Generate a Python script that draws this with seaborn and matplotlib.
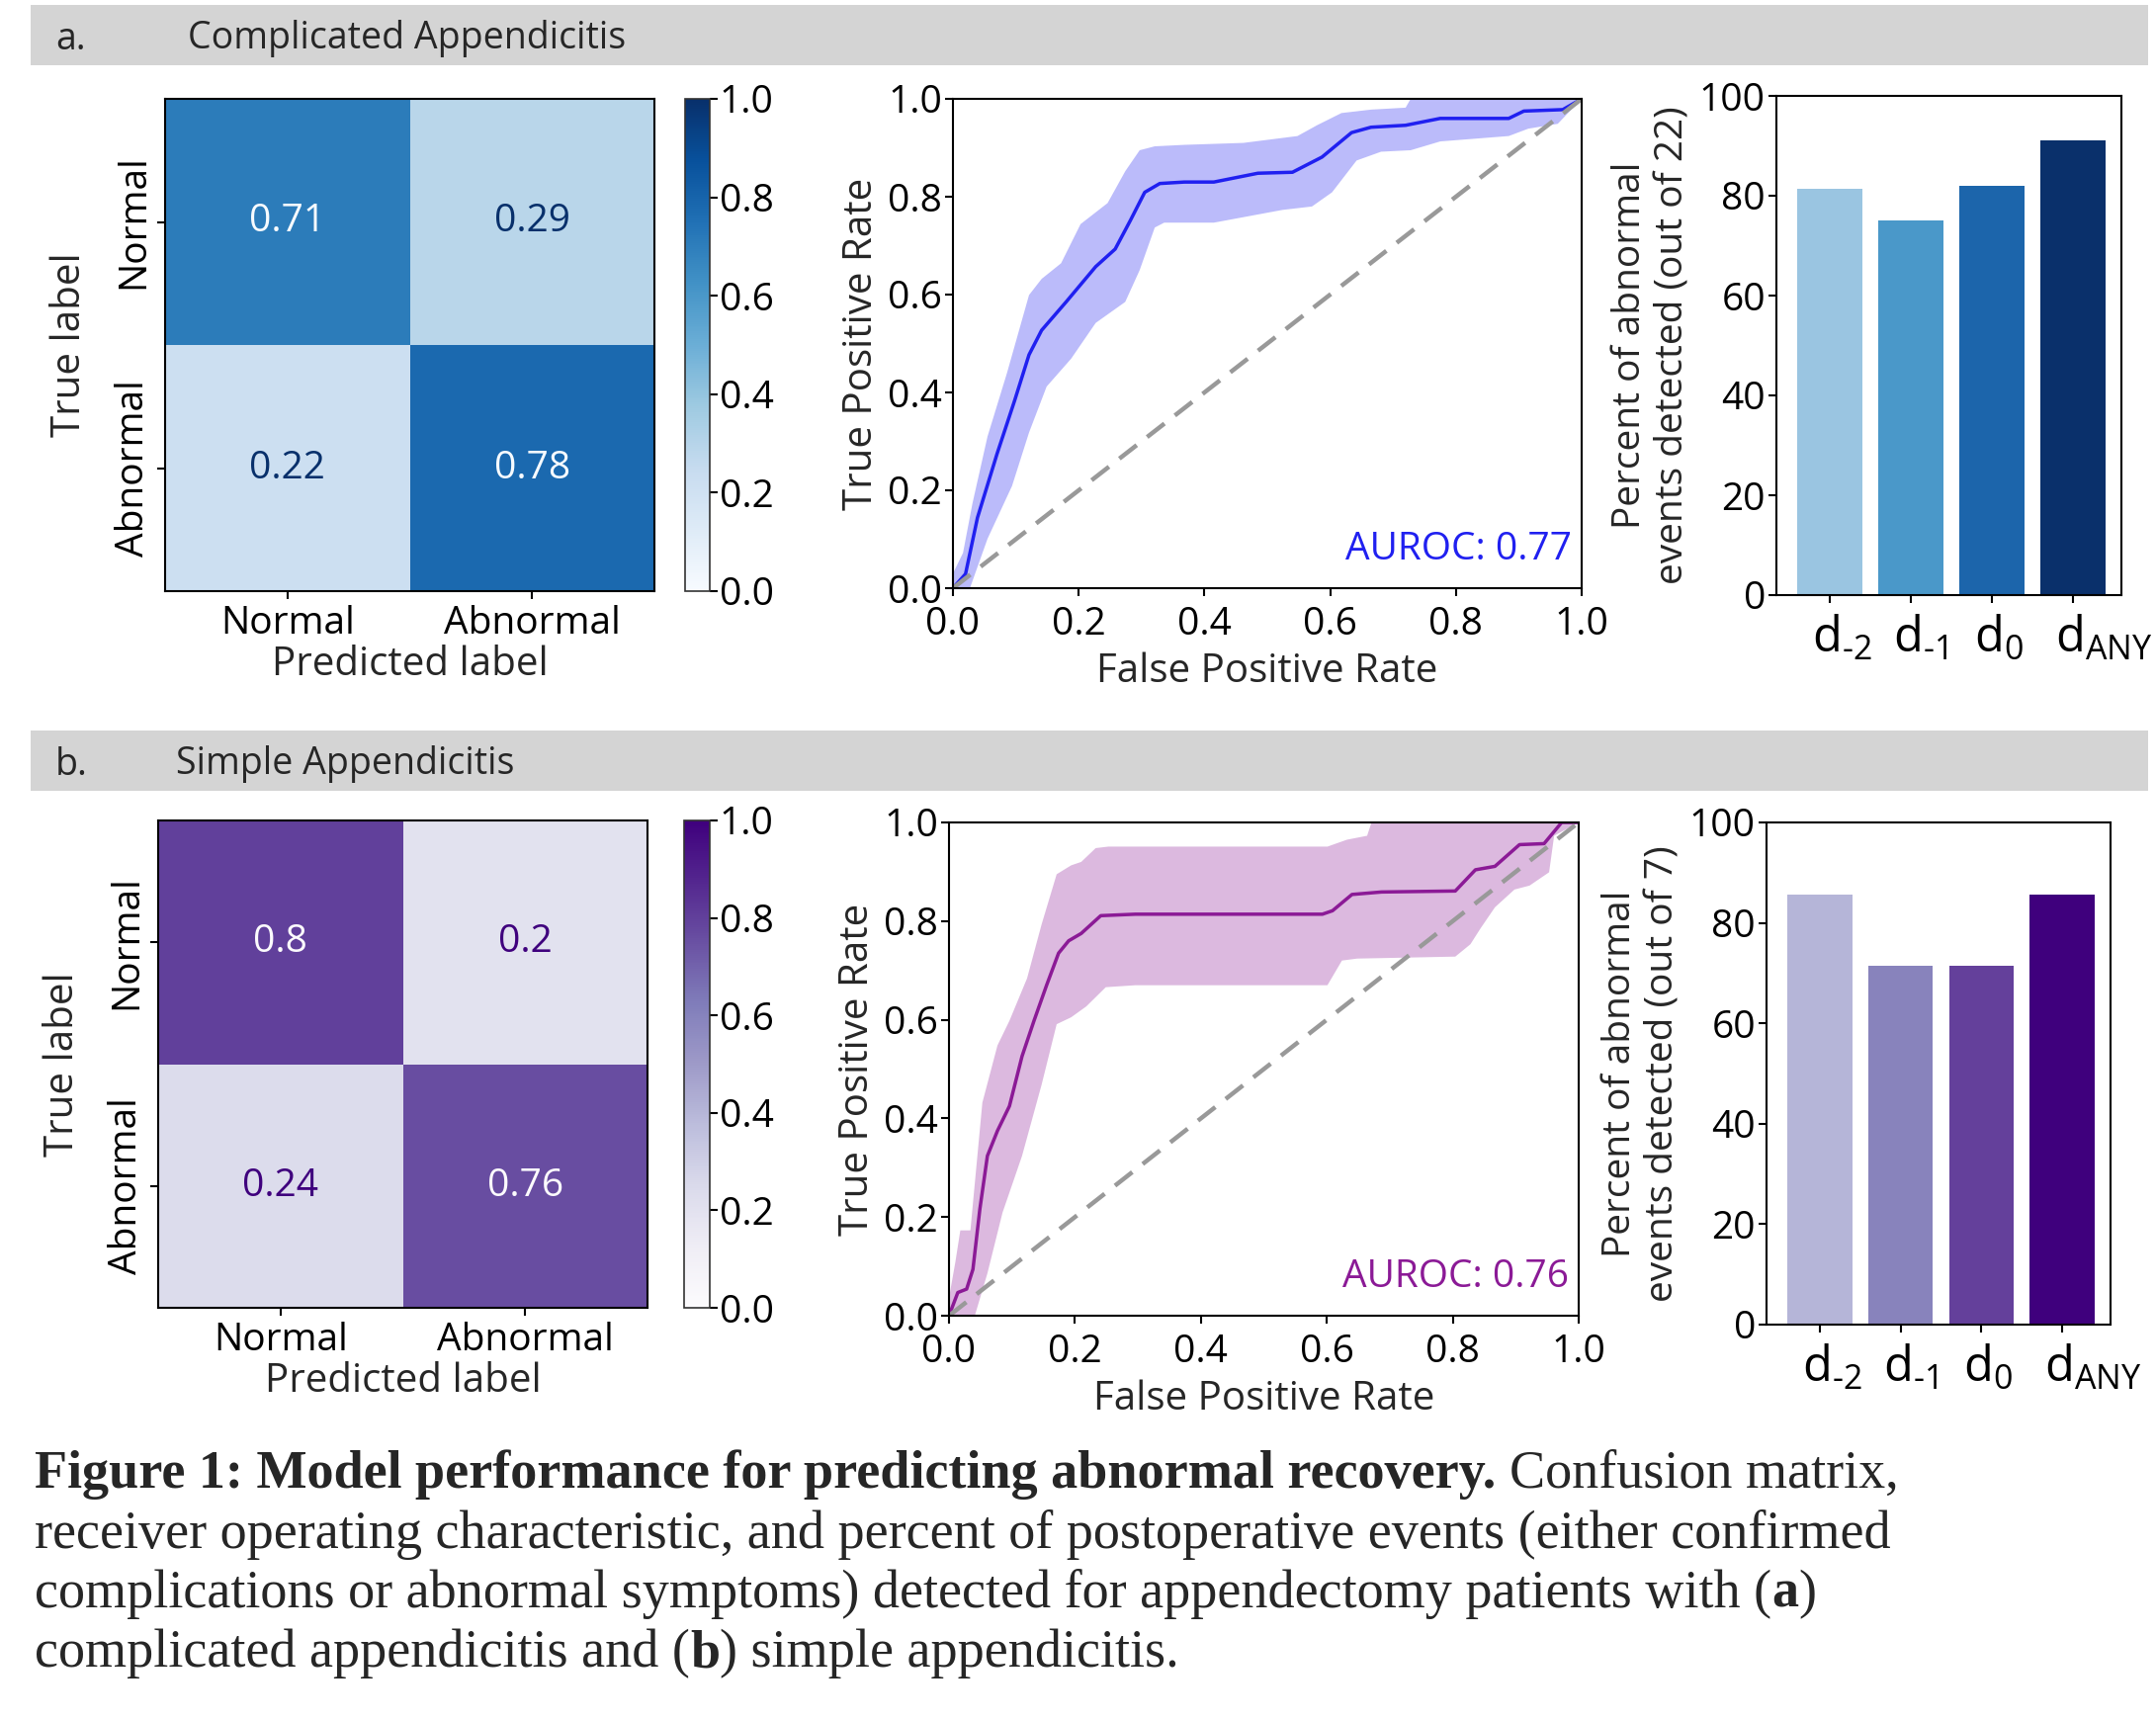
import numpy as np
import pandas as pd
import matplotlib
matplotlib.use("Agg")
import matplotlib.pyplot as plt
import matplotlib.transforms as mtrans
import seaborn as sns
from matplotlib.patches import Rectangle

# ---------------- data ----------------
cm_labels = ["Normal", "Abnormal"]
cm_a = [[0.71, 0.29], [0.22, 0.78]]
cm_b = [[0.8, 0.2], [0.24, 0.76]]

# ROC a (complicated) - mean curve and band edges
roc_a_mean_x = [0, 0.02, 0.039, 0.070, 0.098, 0.121, 0.141, 0.180, 0.227, 0.258, 0.282, 0.305, 0.329,
                0.368, 0.415, 0.485, 0.540, 0.587, 0.634, 0.665, 0.720, 0.775, 0.884, 0.908, 0.970, 1.0]
roc_a_mean_y = [0, 0.029, 0.144, 0.274, 0.383, 0.477, 0.527, 0.585, 0.657, 0.693, 0.751, 0.809, 0.827,
                0.830, 0.830, 0.848, 0.850, 0.881, 0.931, 0.942, 0.946, 0.960, 0.960, 0.975, 0.978, 1.0]
roc_a_up_x = [0, 0.016, 0.031, 0.055, 0.086, 0.121, 0.141, 0.172, 0.203, 0.246, 0.274, 0.297, 0.321,
              0.368, 0.462, 0.548, 0.579, 0.618, 0.665, 0.720, 0.728, 1.0]
roc_a_up_y = [0.03, 0.072, 0.173, 0.310, 0.440, 0.599, 0.632, 0.664, 0.744, 0.787, 0.852, 0.895, 0.903,
              0.906, 0.910, 0.924, 0.946, 0.971, 0.978, 0.982, 1.0, 1.0]
roc_a_lo_x = [0, 0.027, 0.055, 0.094, 0.121, 0.149, 0.188, 0.227, 0.274, 0.297, 0.321, 0.336, 0.415,
              0.524, 0.571, 0.603, 0.642, 0.681, 0.728, 0.775, 0.884, 0.915, 0.962, 1.0]
roc_a_lo_y = [0, 0, 0.101, 0.209, 0.318, 0.412, 0.469, 0.542, 0.585, 0.650, 0.737, 0.747, 0.747,
              0.773, 0.780, 0.809, 0.874, 0.892, 0.895, 0.913, 0.924, 0.939, 0.949, 1.0]

# ROC b (simple)
roc_b_mean_x = [0, 0.014, 0.028, 0.038, 0.049, 0.061, 0.077, 0.096, 0.116, 0.135, 0.155, 0.174, 0.190,
                0.210, 0.241, 0.296, 0.593, 0.609, 0.640, 0.687, 0.804, 0.836, 0.867, 0.906, 0.945, 0.973, 1.0]
roc_b_mean_y = [0, 0.047, 0.054, 0.094, 0.216, 0.324, 0.375, 0.425, 0.526, 0.598, 0.670, 0.735, 0.760,
                0.775, 0.811, 0.814, 0.814, 0.821, 0.854, 0.859, 0.861, 0.904, 0.911, 0.955, 0.957, 1.0, 1.0]
roc_b_up_x = [0, 0.010, 0.018, 0.034, 0.053, 0.077, 0.096, 0.124, 0.147, 0.171, 0.194, 0.210, 0.233,
              0.253, 0.601, 0.632, 0.664, 0.671, 1.0]
roc_b_up_y = [0.036, 0.108, 0.173, 0.173, 0.432, 0.548, 0.598, 0.684, 0.793, 0.895, 0.913, 0.920, 0.948,
              0.951, 0.951, 0.965, 0.973, 1.0, 1.0]
roc_b_lo_x = [0, 0.041, 0.061, 0.085, 0.116, 0.147, 0.171, 0.194, 0.218, 0.249, 0.296, 0.601, 0.624,
              0.648, 0.804, 0.828, 0.844, 0.867, 0.898, 0.922, 0.953, 0.961, 1.0]
roc_b_lo_y = [0, 0, 0.086, 0.209, 0.324, 0.468, 0.591, 0.605, 0.627, 0.666, 0.670, 0.670, 0.720,
              0.724, 0.728, 0.753, 0.785, 0.828, 0.864, 0.872, 0.899, 0.973, 1.0]

auroc_a = "AUROC: 0.77"
auroc_b = "AUROC: 0.76"

bar_cats = ["d-2", "d-1", "d0", "dANY"]
bar_tick_labels = [r"$\mathsf{d}_{\text{-2}}$", r"$\mathsf{d}_{\text{-1}}$",
                   r"$\mathsf{d}_{\text{0}}$", r"$\mathsf{d}_{\text{ANY}}$"]
bar_a_vals = [81.3, 75.0, 81.9, 91.0]
bar_b_vals = [85.7, 71.4, 71.4, 85.7]
bar_a_ylabel = "Percent of abnormal\nevents detected (out of 22)"
bar_b_ylabel = "Percent of abnormal\nevents detected (out of 7)"

header_a = ("a.", "Complicated Appendicitis")
header_b = ("b.", "Simple Appendicitis")

# ---------------- style ----------------
sns.set_style("ticks")
SANS = "Open Sans"
plt.rcParams["font.family"] = [SANS, "DejaVu Sans"]
plt.rcParams["mathtext.fontset"] = "custom"
plt.rcParams["mathtext.sf"] = SANS
plt.rcParams["mathtext.rm"] = SANS
plt.rcParams["axes.linewidth"] = 1.5
plt.rcParams["axes.edgecolor"] = "black"
plt.rcParams["xtick.major.width"] = 1.5
plt.rcParams["ytick.major.width"] = 1.5
plt.rcParams["xtick.major.size"] = 6
plt.rcParams["ytick.major.size"] = 6
plt.rcParams["xtick.color"] = "black"
plt.rcParams["ytick.color"] = "black"

W, H = 2181, 1741
fig = plt.figure(figsize=(W / 100, H / 100), dpi=100)


def rect(x0, y0, x1, y1):
    return [x0 / W, 1 - y1 / H, (x1 - x0) / W, (y1 - y0) / H]


FS = 28

# headers
for (y0, y1), (lab, title) in [((5, 66), header_a), ((739, 800), header_b)]:
    fig.patches.append(Rectangle((31 / W, 1 - y1 / H), (2173 - 31) / W, (y1 - y0) / H,
                                 transform=fig.transFigure, facecolor="#d4d4d4",
                                 edgecolor="none", zorder=0))
    yc = 1 - ((y0 + y1) / 2 + 4) / H
    fig.text(56 / W, yc, lab, fontsize=27, va="center", ha="left")
    fig.text((190 if lab == "a." else 178) / W, yc, title, fontsize=27, va="center", ha="left")


def confusion(ax_rect, cax_rect, data, cmap):
    ax = fig.add_axes(rect(*ax_rect))
    cax = fig.add_axes(rect(*cax_rect))
    df = pd.DataFrame(data, index=cm_labels, columns=cm_labels)
    sns.heatmap(df, ax=ax, cbar_ax=cax, cmap=cmap, vmin=0, vmax=1, annot=True, fmt="g",
                annot_kws={"fontsize": FS})
    cm = plt.get_cmap(cmap)
    flat = np.array(data).flatten()
    for t, v in zip(ax.texts, flat):
        t.set_color(cm(0.0) if v > 0.5 else cm(1.0))
    for s in ax.spines.values():
        s.set_visible(True)
        s.set_linewidth(1.5)
    ax.tick_params(axis="both", labelsize=FS, length=6, width=1.5)
    ax.tick_params(axis="x", pad=4)
    ax.set_yticklabels(cm_labels, rotation=90, va="center")
    ax.set_xticklabels(cm_labels, rotation=0)
    ax.set_xlabel("Predicted label", fontsize=FS + 1, labelpad=2)
    ax.set_ylabel("True label", fontsize=FS + 1, labelpad=18)
    cax.tick_params(labelsize=FS, length=6, width=1.5, pad=1)
    cax.set_yticks([0, 0.2, 0.4, 0.6, 0.8, 1.0])
    cax.set_yticklabels(["0.0", "0.2", "0.4", "0.6", "0.8", "1.0"])
    cbar = ax.collections[0].colorbar
    cbar.outline.set_linewidth(1.2)
    cbar.outline.set_edgecolor("#333333")


def roc(ax_rect, mx, my, ux, uy, lx, ly, color, label):
    ax = fig.add_axes(rect(*ax_rect))
    px = np.r_[ux, lx[::-1]]
    py = np.r_[uy, ly[::-1]]
    ax.fill(px, py, color=color, alpha=0.3, lw=0)
    sns.lineplot(x=mx, y=my, ax=ax, color=color, lw=2.5, sort=False, estimator=None)
    ax.plot([0, 1], [0, 1], ls="--", color="#999999", lw=3.2, dashes=(5, 3))
    ax.set_xlim(0, 1)
    ax.set_ylim(0, 1)
    ax.set_xticks([0, 0.2, 0.4, 0.6, 0.8, 1.0])
    ax.set_yticks([0, 0.2, 0.4, 0.6, 0.8, 1.0])
    ax.set_xticklabels(["0.0", "0.2", "0.4", "0.6", "0.8", "1.0"])
    ax.set_yticklabels(["0.0", "0.2", "0.4", "0.6", "0.8", "1.0"])
    ax.tick_params(labelsize=FS, pad=2)
    ax.tick_params(axis="x", pad=7)
    ax.set_xlabel("False Positive Rate", fontsize=FS + 1, labelpad=6)
    ax.set_ylabel("True Positive Rate", fontsize=FS + 1, labelpad=4)
    ax.text(0.985, 0.04, label, transform=ax.transAxes, ha="right", va="bottom",
            fontsize=FS, color=color)


def bars(ax_rect, vals, palette, ylabel):
    ax = fig.add_axes(rect(*ax_rect))
    df = pd.DataFrame({"cat": bar_cats, "val": vals})
    sns.barplot(data=df, x="cat", y="val", hue="cat", palette=palette, legend=False,
                ax=ax, width=0.8, saturation=1, edgecolor="none")
    ax.set_ylim(0, 100)
    ax.set_xlim(-0.66, 3.6)
    ax.set_yticks([0, 20, 40, 60, 80, 100])
    ax.set_xticks(range(4))
    ax.tick_params(axis="y", labelsize=FS, pad=2)
    ax.tick_params(axis="x", pad=8)
    ax.set_xticklabels(bar_tick_labels, fontsize=35)
    shift = mtrans.ScaledTranslation(-0.18, 0, fig.dpi_scale_trans)
    for lbl in ax.get_xticklabels():
        lbl.set_ha("left")
        lbl.set_transform(lbl.get_transform() + shift)
    ax.set_xlabel("")
    ax.set_ylabel(ylabel, fontsize=FS, labelpad=5, linespacing=1.2)


blues = ["#9ac5e1", "#4a98c9", "#1c65ab", "#0a306b"]
purples = ["#b5b5d8", "#8883bc", "#64409b", "#3f007d"]

confusion((167, 100, 662, 598), (693, 100, 718, 598), cm_a, "Blues")
roc((964, 100, 1600, 595), roc_a_mean_x, roc_a_mean_y, roc_a_up_x, roc_a_up_y,
    roc_a_lo_x, roc_a_lo_y, "#2020f0", auroc_a)
bars((1797, 97, 2146, 602), bar_a_vals, blues, bar_a_ylabel)

confusion((160, 830, 655, 1323), (692, 830, 718, 1323), cm_b, "Purples")
roc((960, 832, 1597, 1331), roc_b_mean_x, roc_b_mean_y, roc_b_up_x, roc_b_up_y,
    roc_b_lo_x, roc_b_lo_y, "#8b1a96", auroc_b)
bars((1787, 832, 2135, 1340), bar_b_vals, purples, bar_b_ylabel)

# ---------------- caption ----------------
SERIF = "Liberation Serif"
CFS = 39
renderer = fig.canvas.get_renderer()


def width_px(s, bold):
    t = fig.text(0, 0, s, fontsize=CFS, family=SERIF, fontweight="bold" if bold else "normal")
    w = t.get_window_extent(renderer).width
    t.remove()
    return w


space_w = width_px("n n", False) - width_px("nn", False)


def rich_line(x_px, base_px, parts):
    x = x_px
    for s, bold in parts:
        lead = len(s) - len(s.lstrip(" "))
        x += lead * space_w
        s2 = s.lstrip(" ")
        t = fig.text(x / W, 1 - base_px / H, s2, fontsize=CFS, family=SERIF,
                     fontweight="bold" if bold else "normal", va="baseline", ha="left")
        x = x + t.get_window_extent(renderer).width


caption_lines = [
    [("Figure 1: Model performance for predicting abnormal recovery.", True), (" Confusion matrix,", False)],
    [("receiver operating characteristic, and percent of postoperative events (either confirmed", False)],
    [("complications or abnormal symptoms) detected for appendectomy patients with (", False), ("a", True), (")", False)],
    [("complicated appendicitis and (", False), ("b", True), (") simple appendicitis.", False)],
]
for i, parts in enumerate(caption_lines):
    rich_line(35, 1505 + i * 60.5, parts)

fig.savefig("out.png", dpi=100)
